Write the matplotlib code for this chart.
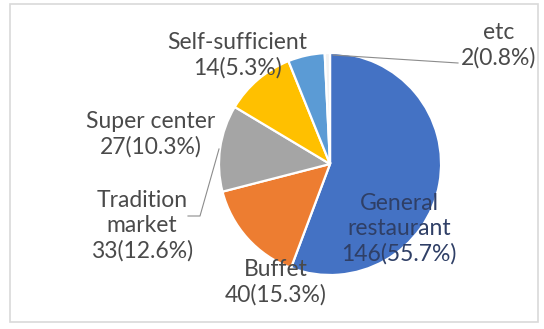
import matplotlib.pyplot as plt
from matplotlib.patches import Rectangle

# shares by place of purchase
names = ["General\nrestaurant", "Buffet", "Tradition\nmarket", "Super center",
         "Self-sufficient", "etc"]
counts = [146, 40, 33, 27, 14, 2]
colors = ["#4472C4", "#ED7D31", "#A5A5A5", "#FFC000", "#5B9BD5", "#F2F2F2"]
explode = [0.055, 0, 0, 0, 0, 0]

# label anchors in pixels (x, y from top)
label_xy = [(399, 229), (276, 282), (142, 226), (151, 134), (237, 55), (499, 45)]
label_colors = ["#2F3F66", "#4A4A4A", "#4A4A4A", "#4A4A4A", "#4A4A4A", "#4A4A4A"]

total = sum(counts)

fig = plt.figure(figsize=(5.44, 3.29), dpi=100)
ax = fig.add_axes([0, 0, 1, 1])

# y axis points down so the pixel layout reads top-to-bottom
ax.pie(counts, colors=colors, explode=explode, startangle=-90, counterclock=True,
       radius=111, center=(330, 164),
       wedgeprops=dict(edgecolor="white", linewidth=1.6))
ax.set_xlim(0, 544)
ax.set_ylim(329, 0)
ax.set_aspect("equal")
ax.axis("off")

for name, n, (x, y), c in zip(names, counts, label_xy, label_colors):
    ax.text(x, y, f"{name}\n{n}({n / total * 100:.1f}%)", ha="center", va="center",
            fontsize=16.5, color=c, family="Lato", linespacing=1.25)

# leader lines for the two labels sitting off their slices
ax.plot([333, 458], [55, 63], color="#8C8C8C", lw=0.8)
ax.plot([219, 200, 188], [149, 216, 216], color="#8C8C8C", lw=0.8)

# chart area outline
ax.add_patch(Rectangle((10, 4), 528, 318, fill=False, edgecolor="#D9D9D9", lw=1.2))

fig.savefig("out.png", dpi=100)
